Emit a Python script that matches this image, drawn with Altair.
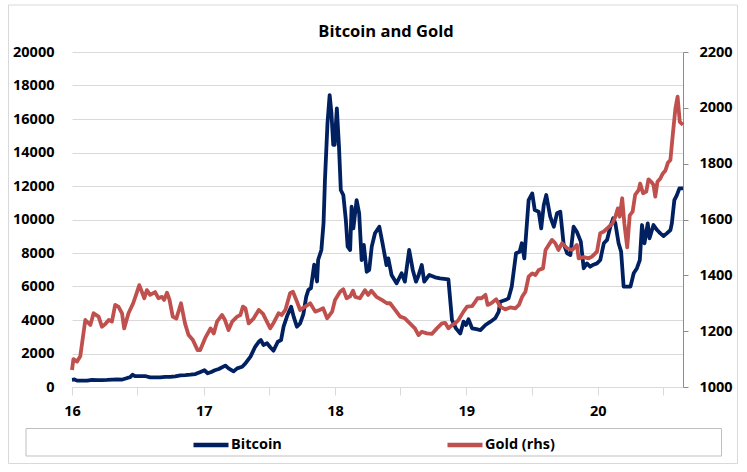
import altair as alt
import pandas as pd

# ---------------- data ----------------
btc_dates = [
    "2016-01-01", "2016-01-08", "2016-01-15", "2016-01-29", "2016-02-12", "2016-02-26",
    "2016-03-11", "2016-03-25", "2016-04-08", "2016-04-22", "2016-05-06", "2016-05-20",
    "2016-06-03", "2016-06-10", "2016-06-17", "2016-06-24", "2016-07-08", "2016-07-22",
    "2016-08-05", "2016-08-19", "2016-09-02", "2016-09-16", "2016-09-30", "2016-10-14",
    "2016-10-28", "2016-11-11", "2016-11-25", "2016-12-09", "2016-12-23",
    "2017-01-03", "2017-01-12", "2017-01-22", "2017-02-01", "2017-02-12", "2017-03-02",
    "2017-03-11", "2017-03-25", "2017-04-04", "2017-04-18", "2017-04-27", "2017-05-11",
    "2017-05-24", "2017-06-03", "2017-06-09", "2017-06-16", "2017-06-26", "2017-07-05",
    "2017-07-14", "2017-07-26", "2017-08-04", "2017-08-11", "2017-08-22", "2017-09-01",
    "2017-09-08", "2017-09-17", "2017-09-26", "2017-10-05", "2017-10-13", "2017-10-19",
    "2017-10-26", "2017-11-04", "2017-11-12", "2017-11-15", "2017-11-24", "2017-11-30",
    "2017-12-04", "2017-12-11", "2017-12-17", "2017-12-22", "2017-12-27", "2017-12-31",
    "2018-01-06", "2018-01-12", "2018-01-17", "2018-01-24", "2018-01-31", "2018-02-05",
    "2018-02-12", "2018-02-16", "2018-02-21", "2018-03-02", "2018-03-09", "2018-03-16",
    "2018-03-22", "2018-03-30", "2018-04-06", "2018-04-13", "2018-04-22", "2018-05-04",
    "2018-05-13", "2018-05-24", "2018-05-29", "2018-06-07", "2018-06-21", "2018-07-05",
    "2018-07-14", "2018-07-26", "2018-08-05", "2018-08-14", "2018-08-20", "2018-08-30",
    "2018-09-06", "2018-09-20", "2018-10-06", "2018-10-20", "2018-11-12", "2018-11-22",
    "2018-12-03", "2018-12-15", "2018-12-24", "2018-12-31",
    "2019-01-07", "2019-01-17", "2019-01-29", "2019-02-09", "2019-02-23", "2019-03-09",
    "2019-03-22", "2019-04-01", "2019-04-05", "2019-04-19", "2019-04-28", "2019-05-07",
    "2019-05-19", "2019-05-29", "2019-06-04", "2019-06-11", "2019-06-23", "2019-07-03",
    "2019-07-10", "2019-07-21", "2019-07-28", "2019-08-04", "2019-08-11", "2019-08-22",
    "2019-09-01", "2019-09-10", "2019-09-19", "2019-09-28", "2019-10-08", "2019-10-17",
    "2019-10-26", "2019-11-04", "2019-11-15", "2019-11-23", "2019-12-02", "2019-12-11",
    "2019-12-20", "2019-12-30",
    "2020-01-08", "2020-01-18", "2020-01-27", "2020-02-05", "2020-02-13", "2020-02-19",
    "2020-02-28", "2020-03-06", "2020-03-13", "2020-03-23", "2020-04-01", "2020-04-10",
    "2020-04-19", "2020-04-27", "2020-05-03", "2020-05-10", "2020-05-19", "2020-05-24",
    "2020-06-04", "2020-06-14", "2020-06-23", "2020-07-02", "2020-07-11", "2020-07-21",
    "2020-07-25", "2020-08-01", "2020-08-08", "2020-08-15", "2020-08-25",
]
btc_values = [
    430, 450, 380, 375, 380, 430,
    415, 415, 420, 445, 450, 445,
    540, 580, 730, 650, 650, 655,
    580, 575, 575, 610, 610, 640,
    700, 710, 735, 770, 900,
    1000, 820, 900, 1000, 1075, 1280,
    1115, 930, 1115, 1210, 1410, 1810,
    2400, 2700, 2800, 2510, 2610, 2370,
    2170, 2700, 2800, 3600, 4300, 4790,
    4200, 3600, 3800, 4350, 5400, 5800,
    5900, 7300, 6300, 7580, 8180, 9770,
    12360, 15740, 17430, 16340, 14450, 14450,
    16640, 14350, 11760, 11460, 9970, 8380,
    8180, 10760, 9470, 11160, 10370, 7580,
    8480, 6880, 6990, 8380, 9180, 9570,
    8580, 7280, 7680, 6690, 6190, 6790,
    6290, 8180, 6990, 6290, 6590, 7280,
    6290, 6690, 6550, 6490, 6430, 4000,
    3500, 3200, 3900, 3700,
    4040, 3500, 3450, 3400, 3700, 3900,
    4100, 4500, 5090, 5190, 5290, 5990,
    7980, 8080, 8580, 7680, 11160, 11560,
    10570, 10470, 9470, 10860, 11460, 10170,
    9570, 10370, 10470, 8580, 7980, 7880,
    9570, 9270, 8680, 7090, 7380, 7180,
    7300, 7380,
    7580, 8580, 8780, 9570, 10070, 9770,
    8580, 8080, 5990, 5990, 5990, 6790,
    7090, 7580, 9670, 8580, 9770, 8880,
    9670, 9370, 9170, 9010, 9170, 9370,
    9770, 11160, 11460, 11860, 11860,
]

gold_dates = [
    "2016-01-01", "2016-01-05", "2016-01-15", "2016-01-24", "2016-02-07", "2016-02-21",
    "2016-03-01", "2016-03-15", "2016-03-24", "2016-04-02", "2016-04-12", "2016-04-21",
    "2016-04-30", "2016-05-09", "2016-05-19", "2016-05-25", "2016-06-06", "2016-06-19",
    "2016-06-27", "2016-07-06", "2016-07-20", "2016-07-27", "2016-08-05", "2016-08-19",
    "2016-08-28", "2016-09-07", "2016-09-13", "2016-09-21", "2016-09-28", "2016-10-07",
    "2016-10-17", "2016-10-30", "2016-11-10", "2016-11-20", "2016-12-02", "2016-12-15",
    "2016-12-22",
    "2017-01-05", "2017-01-20", "2017-01-29", "2017-02-07", "2017-02-21", "2017-03-01",
    "2017-03-11", "2017-03-21", "2017-04-04", "2017-04-13", "2017-04-20", "2017-04-27",
    "2017-05-06", "2017-05-20", "2017-06-03", "2017-06-15", "2017-06-21", "2017-07-05",
    "2017-07-16", "2017-07-28", "2017-08-06", "2017-08-16", "2017-08-29", "2017-09-06",
    "2017-09-17", "2017-09-26", "2017-10-10", "2017-10-24", "2017-11-07", "2017-11-19",
    "2017-11-29", "2017-12-10", "2017-12-24",
    "2018-01-01", "2018-01-15", "2018-01-24", "2018-02-02", "2018-02-12", "2018-02-20",
    "2018-02-26", "2018-03-11", "2018-03-25", "2018-04-03", "2018-04-12", "2018-04-26",
    "2018-05-11", "2018-05-25", "2018-06-03", "2018-06-17", "2018-07-01", "2018-07-14",
    "2018-07-28", "2018-08-11", "2018-08-21", "2018-08-30", "2018-09-13", "2018-09-27",
    "2018-10-11", "2018-10-25", "2018-11-03", "2018-11-12", "2018-11-22", "2018-12-01",
    "2018-12-10", "2018-12-24",
    "2019-01-03", "2019-01-17", "2019-01-26", "2019-02-01", "2019-02-12", "2019-02-23",
    "2019-03-01", "2019-03-11", "2019-03-25", "2019-04-05", "2019-04-19", "2019-05-03",
    "2019-05-17", "2019-05-27", "2019-06-05", "2019-06-14", "2019-06-23", "2019-07-03",
    "2019-07-12", "2019-07-21", "2019-08-02", "2019-08-09", "2019-08-18", "2019-08-27",
    "2019-09-05", "2019-09-14", "2019-09-24", "2019-10-08", "2019-10-22", "2019-11-04",
    "2019-11-09", "2019-11-23", "2019-12-07", "2019-12-16", "2019-12-30",
    "2020-01-08", "2020-01-18", "2020-02-01", "2020-02-10", "2020-02-19", "2020-02-26",
    "2020-03-02", "2020-03-09", "2020-03-15", "2020-03-23", "2020-03-30", "2020-04-07",
    "2020-04-14", "2020-04-24", "2020-04-28", "2020-05-06", "2020-05-15", "2020-05-21",
    "2020-05-29", "2020-06-04", "2020-06-09", "2020-06-15", "2020-06-23", "2020-06-30",
    "2020-07-07", "2020-07-14", "2020-07-21", "2020-07-28", "2020-08-04", "2020-08-10",
    "2020-08-16", "2020-08-25",
]
gold_values = [
    1061, 1100, 1091, 1110, 1240, 1222,
    1264, 1252, 1216, 1225, 1240, 1234,
    1294, 1288, 1264, 1210, 1264, 1300,
    1330, 1365, 1318, 1347, 1330, 1340,
    1318, 1323, 1312, 1338, 1312, 1252,
    1245, 1300, 1228, 1186, 1168, 1132,
    1132,
    1175, 1210, 1192, 1234, 1258, 1240,
    1204, 1234, 1252, 1258, 1288, 1282,
    1228, 1246, 1276, 1262, 1246, 1210,
    1234, 1264, 1258, 1276, 1336, 1341,
    1306, 1276, 1288, 1300, 1270, 1276,
    1282, 1246, 1270,
    1312, 1341, 1350, 1318, 1325, 1345,
    1323, 1318, 1347, 1330, 1345, 1323,
    1312, 1300, 1300, 1276, 1252, 1246,
    1228, 1210, 1186, 1198, 1192, 1190,
    1210, 1228, 1230, 1210, 1222, 1228,
    1240, 1270,
    1288, 1290, 1306, 1318, 1318, 1330,
    1294, 1300, 1314, 1288, 1278, 1285,
    1282, 1294, 1323, 1341, 1395, 1407,
    1401, 1419, 1425, 1491, 1509, 1527,
    1515, 1491, 1515, 1497, 1491, 1509,
    1461, 1465, 1461, 1467, 1485,
    1551, 1557, 1574, 1584, 1610, 1640,
    1610, 1676, 1586, 1500, 1615, 1628,
    1688, 1706, 1729, 1694, 1700, 1744,
    1735, 1724, 1682, 1735, 1747, 1765,
    1775, 1803, 1813, 1909, 1998, 2040,
    1950, 1939,
]

series_names = ["Bitcoin", "Gold (rhs)"]
series_colors = ["#002060", "#C0504D"]
btc_ticks = [0, 2000, 4000, 6000, 8000, 10000, 12000, 14000, 16000, 18000, 20000]
gold_ticks = [1000, 1200, 1400, 1600, 1800, 2000, 2200]
x_tick_months = [(2016, 1), (2016, 7), (2017, 1), (2017, 7), (2018, 1), (2018, 7),
                 (2019, 1), (2019, 7), (2020, 1), (2020, 7)]
x_start = (2016, 1, 1)
x_end = (2020, 8, 25)
title_text = "Bitcoin and Gold"

# ---------------- chart ----------------
FONT = "Open Sans"
btc_df = pd.DataFrame({"date": btc_dates, "value": btc_values, "series": series_names[0]})
gold_df = pd.DataFrame({"date": gold_dates, "value": gold_values, "series": series_names[1]})

x_enc = alt.X(
    "date:T",
    scale=alt.Scale(
        type="utc",
        domain=[alt.DateTime(year=x_start[0], month=x_start[1], date=x_start[2], utc=True),
                alt.DateTime(year=x_end[0], month=x_end[1], date=x_end[2], utc=True)],
    ),
    axis=alt.Axis(
        title=None,
        values=[alt.DateTime(year=y, month=m, date=1, utc=True) for y, m in x_tick_months],
        labelExpr="utcFormat(datum.value, '%m') == '01' ? utcFormat(datum.value, '%y') : ''",
        grid=False,
        domainColor="#d9d9d9",
        tickColor="#d9d9d9",
        tickSize=8,
        labelPadding=9,
        labelFlush=False,
        labelOverlap=False,
    ),
)

color_enc = alt.Color(
    "series:N",
    scale=alt.Scale(domain=series_names, range=series_colors),
    legend=alt.Legend(
        title=None,
        orient="none",
        legendX=119,
        legendY=373,
        direction="horizontal",
        columns=2,
        columnPadding=156,
        symbolType="stroke",
        symbolSize=1225,
        symbolStrokeWidth=4.5,
        labelFont=FONT,
        labelFontWeight="bold",
        labelFontSize=14.5,
        labelColor="#000000",
        labelOffset=0,
        padding=0,
    ),
)

btc_line = alt.Chart(btc_df).mark_line(strokeWidth=3.8, strokeJoin="round").encode(
    x=x_enc,
    y=alt.Y(
        "value:Q",
        scale=alt.Scale(domain=[0, 20000], nice=False),
        axis=alt.Axis(
            orient="left", title=None, values=btc_ticks, format="d",
            domain=False, ticks=False, grid=True, gridColor="#d9d9d9",
            labelPadding=18, labelFlush=False,
        ),
    ),
    color=color_enc,
)

gold_line = alt.Chart(gold_df).mark_line(strokeWidth=3.8, strokeJoin="round").encode(
    x=x_enc,
    y=alt.Y(
        "value:Q",
        scale=alt.Scale(domain=[1000, 2200], nice=False),
        axis=alt.Axis(
            orient="right", title=None, values=gold_ticks, format="d",
            domain=True, domainColor="#8c8c8c", ticks=True, tickColor="#8c8c8c",
            tickSize=5, grid=False, labelPadding=11, labelFlush=False,
        ),
    ),
    color=color_enc,
)

frame_df = pd.DataFrame({"k": [0]})
outer_border = alt.Chart(frame_df).mark_rect(
    fill="transparent", stroke="#d9d9d9", strokeWidth=1
).encode(x=alt.value(-63.5), x2=alt.value(665.5), y=alt.value(-47), y2=alt.value(411.5))

legend_box = alt.Chart(frame_df).mark_rect(
    fill="transparent", stroke="#bfbfbf", strokeWidth=1
).encode(x=alt.value(-46), x2=alt.value(649.5), y=alt.value(376.5), y2=alt.value(404))

title_mark = alt.Chart(frame_df).mark_text(
    font=FONT, fontSize=16.5, fontWeight="bold", color="#000000",
    align="center", baseline="alphabetic",
).encode(x=alt.value(314), y=alt.value(-15), text=alt.value(title_text))

chart = (
    alt.layer(outer_border, legend_box, title_mark, btc_line, gold_line)
    .resolve_scale(y="independent")
    .properties(
        width=611,
        height=335,
        padding={"left": 72, "top": 52, "right": 64, "bottom": 85},
        autosize=alt.AutoSizeParams(type="none"),
        background="white",
    )
    .configure_view(strokeWidth=0)
    .configure_axis(
        labelFont=FONT, labelFontWeight="bold", labelFontSize=14.5, labelColor="#000000",
    )
)

chart.save("out.html", embed_options={"renderer": "svg", "actions": False})
